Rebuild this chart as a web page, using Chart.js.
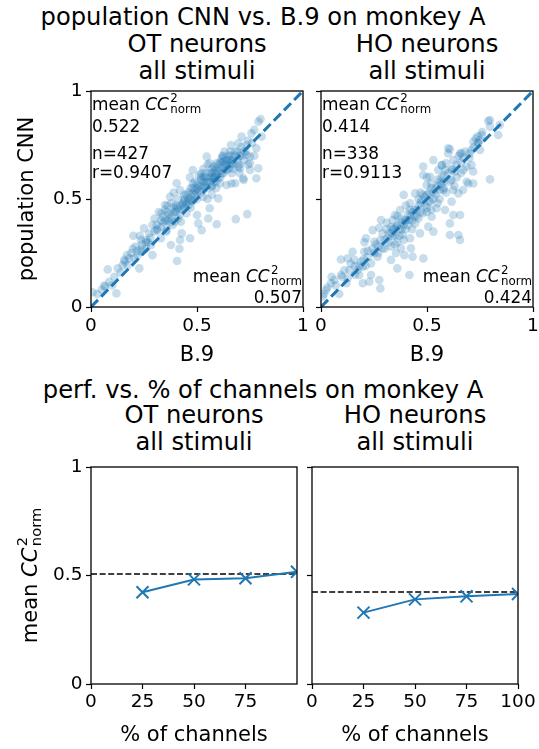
<!DOCTYPE html>
<html>
<head>
<meta charset="utf-8">
<script src="https://cdn.jsdelivr.net/npm/chart.js@4.4.1/dist/chart.umd.min.js"></script>
<style>
  html, body { margin: 0; padding: 0; background: #fff; }
  body { width: 539px; height: 749px; position: relative; overflow: hidden; font-family: 'DejaVu Sans', sans-serif; color: #000; }
  .title { position: absolute; font-size: 24.2px; line-height: 27px; text-align: center; white-space: nowrap; transform: translateX(-50%); }
  canvas { position: absolute; }
</style>
</head>
<body>
<div class="title" style="left:263px;top:4px">population CNN vs. B.9 on monkey A</div>
<div class="title" style="left:197px;top:31px">OT neurons<br>all stimuli</div>
<div class="title" style="left:427px;top:31px">HO neurons<br>all stimuli</div>
<div class="title" style="left:263px;top:376.5px">perf. vs. % of channels on monkey A</div>
<div class="title" style="left:194px;top:401.5px">OT neurons<br>all stimuli</div>
<div class="title" style="left:415px;top:401.5px">HO neurons<br>all stimuli</div>

<canvas id="scatterOT" width="318" height="304" style="left:0;top:66px"></canvas>
<canvas id="scatterHO" width="245" height="304" style="left:300px;top:66px"></canvas>
<canvas id="perfOT" width="312" height="307" style="left:0;top:442px"></canvas>
<canvas id="perfHO" width="255" height="307" style="left:290px;top:442px"></canvas>

<script>
// --- data ---

// per-neuron CC^2_norm: [B.9, population CNN], OT neurons
const otScatter = [
  [0.008, 0.068], [0.03, 0.06], [0.05, 0.08], [0.063, 0.099], [0.066, 0.094], [0.12, 0.063],
  [0.086, 0.117], [0.079, 0.174], [0.10, 0.10], [0.11, 0.14], [0.126, 0.179], [0.14, 0.16],
  [0.149, 0.194], [0.157, 0.218], [0.16, 0.21], [0.173, 0.194], [0.17, 0.24], [0.18, 0.225],
  [0.19, 0.25], [0.197, 0.27], [0.204, 0.225], [0.20, 0.33], [0.21, 0.28], [0.22, 0.24],
  [0.22, 0.26], [0.228, 0.179], [0.23, 0.33], [0.236, 0.256], [0.236, 0.31], [0.24, 0.29],
  [0.24, 0.27], [0.25, 0.364], [0.26, 0.27], [0.26, 0.30], [0.26, 0.31], [0.27, 0.30],
  [0.275, 0.34], [0.28, 0.32], [0.283, 0.287], [0.29, 0.24], [0.29, 0.38], [0.30, 0.35],
  [0.30, 0.41], [0.31, 0.36], [0.31, 0.38], [0.314, 0.356], [0.32, 0.44], [0.33, 0.318],
  [0.33, 0.37], [0.33, 0.40], [0.333, 0.434], [0.338, 0.418], [0.34, 0.39], [0.349, 0.472],
  [0.354, 0.349], [0.35, 0.40], [0.35, 0.45], [0.357, 0.356], [0.36, 0.40], [0.36, 0.44],
  [0.36, 0.47], [0.37, 0.39], [0.37, 0.41], [0.37, 0.43], [0.373, 0.51], [0.377, 0.287],
  [0.38, 0.42], [0.38, 0.48], [0.385, 0.38], [0.39, 0.44], [0.39, 0.46], [0.39, 0.53],
  [0.396, 0.395], [0.40, 0.44], [0.40, 0.45], [0.40, 0.47], [0.404, 0.573], [0.406, 0.213],
  [0.41, 0.41], [0.41, 0.46], [0.41, 0.50], [0.417, 0.27], [0.42, 0.31], [0.42, 0.43],
  [0.42, 0.47], [0.42, 0.54], [0.424, 0.395], [0.428, 0.341], [0.43, 0.45], [0.43, 0.47],
  [0.435, 0.48], [0.44, 0.46], [0.44, 0.49], [0.44, 0.50], [0.44, 0.52], [0.45, 0.434],
  [0.45, 0.48], [0.45, 0.52], [0.46, 0.47], [0.46, 0.49], [0.46, 0.50], [0.46, 0.53],
  [0.467, 0.318], [0.467, 0.60], [0.47, 0.46], [0.47, 0.51], [0.47, 0.55], [0.474, 0.495],
  [0.48, 0.49], [0.48, 0.526], [0.48, 0.55], [0.48, 0.57], [0.48, 0.634], [0.49, 0.52],
  [0.49, 0.54], [0.49, 0.58], [0.50, 0.426], [0.50, 0.50], [0.50, 0.53], [0.50, 0.55],
  [0.50, 0.57], [0.506, 0.387], [0.51, 0.54], [0.51, 0.56], [0.51, 0.61], [0.52, 0.53],
  [0.52, 0.56], [0.52, 0.59], [0.52, 0.60], [0.52, 0.619], [0.522, 0.356], [0.53, 0.51],
  [0.53, 0.557], [0.53, 0.58], [0.53, 0.60], [0.53, 0.64], [0.54, 0.56], [0.54, 0.58],
  [0.54, 0.60], [0.54, 0.62], [0.546, 0.696], [0.55, 0.50], [0.55, 0.55], [0.55, 0.58],
  [0.55, 0.66], [0.553, 0.41], [0.56, 0.457], [0.56, 0.58], [0.56, 0.60], [0.56, 0.62],
  [0.56, 0.665], [0.57, 0.52], [0.57, 0.557], [0.57, 0.56], [0.57, 0.60], [0.57, 0.62],
  [0.57, 0.64], [0.577, 0.596], [0.58, 0.58], [0.58, 0.60], [0.58, 0.63], [0.58, 0.65],
  [0.585, 0.603], [0.59, 0.55], [0.59, 0.58], [0.59, 0.62], [0.59, 0.64], [0.593, 0.383],
  [0.593, 0.665], [0.60, 0.503], [0.60, 0.60], [0.60, 0.63], [0.60, 0.66], [0.608, 0.572],
  [0.61, 0.60], [0.61, 0.63], [0.61, 0.67], [0.616, 0.688], [0.62, 0.62], [0.62, 0.65],
  [0.62, 0.67], [0.62, 0.70], [0.624, 0.619], [0.624, 0.696], [0.63, 0.64], [0.63, 0.66],
  [0.63, 0.68], [0.63, 0.72], [0.64, 0.565], [0.64, 0.634], [0.64, 0.66], [0.64, 0.68],
  [0.65, 0.64], [0.65, 0.68], [0.65, 0.70], [0.656, 0.665], [0.656, 0.719], [0.66, 0.66],
  [0.66, 0.68], [0.66, 0.70], [0.66, 0.75], [0.663, 0.572], [0.664, 0.619], [0.67, 0.64],
  [0.67, 0.66], [0.67, 0.68], [0.68, 0.573], [0.68, 0.70], [0.68, 0.72], [0.683, 0.407],
  [0.69, 0.68], [0.69, 0.72], [0.695, 0.65], [0.695, 0.758], [0.70, 0.62], [0.70, 0.66],
  [0.70, 0.70], [0.703, 0.642], [0.71, 0.70], [0.71, 0.74], [0.71, 0.789], [0.718, 0.596],
  [0.72, 0.588], [0.72, 0.68], [0.72, 0.72], [0.73, 0.72], [0.734, 0.704], [0.734, 0.75],
  [0.737, 0.43], [0.74, 0.66], [0.74, 0.77], [0.75, 0.634], [0.75, 0.665], [0.75, 0.696],
  [0.757, 0.804], [0.76, 0.76], [0.77, 0.70], [0.77, 0.82], [0.78, 0.596], [0.78, 0.735],
  [0.789, 0.642], [0.79, 0.858], [0.80, 0.87], [0.805, 0.789],
];

// HO neurons
const hoScatter = [
  [0.008, 0.048], [0.015, 0.06], [0.024, 0.079], [0.03, 0.09], [0.047, 0.11], [0.05, 0.14],
  [0.063, 0.125], [0.07, 0.10], [0.086, 0.06], [0.094, 0.148], [0.094, 0.22], [0.10, 0.14],
  [0.11, 0.17], [0.12, 0.11], [0.126, 0.133], [0.126, 0.225], [0.134, 0.171], [0.14, 0.20],
  [0.149, 0.256], [0.157, 0.218], [0.16, 0.15], [0.16, 0.19], [0.173, 0.171], [0.18, 0.148],
  [0.18, 0.19], [0.19, 0.21], [0.197, 0.11], [0.197, 0.187], [0.20, 0.22], [0.204, 0.256],
  [0.205, 0.30], [0.21, 0.19], [0.212, 0.318], [0.22, 0.23], [0.22, 0.26], [0.228, 0.117],
  [0.236, 0.148], [0.236, 0.202], [0.24, 0.27], [0.244, 0.356], [0.25, 0.25], [0.252, 0.302],
  [0.26, 0.29], [0.267, 0.233], [0.27, 0.25], [0.27, 0.28], [0.275, 0.125], [0.275, 0.367],
  [0.28, 0.086], [0.28, 0.31], [0.283, 0.403], [0.29, 0.272], [0.29, 0.34], [0.30, 0.27],
  [0.30, 0.31], [0.31, 0.36], [0.31, 0.39], [0.314, 0.318], [0.32, 0.30], [0.32, 0.34],
  [0.33, 0.218], [0.33, 0.28], [0.33, 0.37], [0.333, 0.341], [0.338, 0.403], [0.34, 0.33],
  [0.34, 0.36], [0.346, 0.364], [0.349, 0.426], [0.35, 0.29], [0.35, 0.33], [0.354, 0.25],
  [0.357, 0.372], [0.36, 0.179], [0.36, 0.30], [0.36, 0.38], [0.36, 0.42], [0.37, 0.33],
  [0.37, 0.36], [0.373, 0.449], [0.377, 0.272], [0.377, 0.41], [0.38, 0.36], [0.38, 0.39],
  [0.385, 0.333], [0.39, 0.31], [0.39, 0.38], [0.39, 0.519], [0.393, 0.24], [0.396, 0.403],
  [0.40, 0.36], [0.40, 0.40], [0.40, 0.47], [0.41, 0.38], [0.41, 0.43], [0.417, 0.148],
  [0.417, 0.403], [0.42, 0.318], [0.42, 0.42], [0.42, 0.45], [0.42, 0.48], [0.424, 0.272],
  [0.43, 0.36], [0.43, 0.40], [0.43, 0.44], [0.432, 0.233], [0.44, 0.42], [0.44, 0.45],
  [0.444, 0.387], [0.444, 0.526], [0.45, 0.42], [0.45, 0.449], [0.46, 0.41], [0.46, 0.47],
  [0.46, 0.50], [0.467, 0.341], [0.47, 0.44], [0.47, 0.48], [0.47, 0.53], [0.474, 0.495],
  [0.48, 0.434], [0.48, 0.52], [0.482, 0.611], [0.482, 0.65], [0.483, 0.225], [0.49, 0.47],
  [0.49, 0.51], [0.498, 0.565], [0.50, 0.44], [0.50, 0.46], [0.50, 0.52], [0.50, 0.60],
  [0.506, 0.372], [0.51, 0.49], [0.51, 0.53], [0.514, 0.488], [0.514, 0.603], [0.52, 0.45],
  [0.52, 0.55], [0.52, 0.57], [0.522, 0.418], [0.53, 0.349], [0.53, 0.50], [0.53, 0.53],
  [0.53, 0.68], [0.54, 0.52], [0.54, 0.55], [0.545, 0.457], [0.55, 0.48], [0.55, 0.56],
  [0.55, 0.59], [0.553, 0.634], [0.56, 0.50], [0.56, 0.542], [0.56, 0.58], [0.569, 0.657],
  [0.57, 0.57], [0.57, 0.60], [0.57, 0.657], [0.577, 0.542], [0.58, 0.55], [0.58, 0.58],
  [0.58, 0.61], [0.585, 0.449], [0.585, 0.634], [0.59, 0.53], [0.59, 0.665], [0.60, 0.62],
  [0.60, 0.711], [0.60, 0.735], [0.608, 0.333], [0.608, 0.387], [0.608, 0.73], [0.61, 0.58],
  [0.616, 0.488], [0.616, 0.588], [0.616, 0.634], [0.62, 0.64], [0.624, 0.426], [0.624, 0.542],
  [0.624, 0.68], [0.63, 0.56], [0.632, 0.627], [0.64, 0.60], [0.64, 0.66], [0.648, 0.333],
  [0.648, 0.526], [0.65, 0.70], [0.656, 0.31], [0.656, 0.426], [0.656, 0.711], [0.66, 0.62],
  [0.66, 0.67], [0.663, 0.711], [0.67, 0.542], [0.67, 0.69], [0.672, 0.634], [0.68, 0.72],
  [0.687, 0.58], [0.687, 0.65], [0.695, 0.572], [0.70, 0.69], [0.70, 0.71], [0.71, 0.657],
  [0.71, 0.727], [0.718, 0.572], [0.718, 0.627], [0.719, 0.765], [0.72, 0.74], [0.73, 0.78],
  [0.74, 0.76], [0.74, 0.79], [0.742, 0.758], [0.75, 0.727], [0.75, 0.773], [0.758, 0.796],
  [0.76, 0.81], [0.789, 0.861], [0.797, 0.591], [0.797, 0.835], [0.797, 0.866], [0.836, 0.796],
  [0.843, 0.843],
];

const cnnMean = ['0.522', '0.414'];
const b9Mean = [0.507, 0.424];
const nNeurons = [427, 338];
const corrR = ['0.9407', '0.9113'];

// perf. vs. % of channels
const channelPct = [25, 50, 75, 100];
const otPerf = [0.423, 0.482, 0.487, 0.517];
const hoPerf = [0.329, 0.390, 0.404, 0.415];

const unitTicks = [0, 0.5, 1];
const otPctTicks = [0, 25, 50, 75];
const hoPctTicks = [0, 25, 50, 75, 100];

// --- drawing ---
const BLUE = '#1f77b4';
const FONT = '"DejaVu Sans", sans-serif';
const TICK_SIZE = 18.5;
const LABEL_SIZE = 21;
const NOTE_SIZE = 16.9;

Chart.defaults.font.family = FONT;
Chart.defaults.color = '#000';
Chart.defaults.animation = false;

function drawCC(ctx, x, y, size, align) {
  // "mean CC^2_norm" laid out roughly like matplotlib mathtext
  const small = size * 0.7;
  ctx.font = `${size}px ${FONT}`;
  const wMean = ctx.measureText('mean ').width;
  ctx.font = `italic ${size}px ${FONT}`;
  const wCC = ctx.measureText('CC').width;
  ctx.font = `${small}px ${FONT}`;
  const wScript = Math.max(ctx.measureText('2').width, ctx.measureText('norm').width);
  const total = wMean + wCC + 1.5 + wScript;
  let x0 = x;
  if (align === 'right') x0 = x - total;
  if (align === 'center') x0 = x - total / 2;
  ctx.textAlign = 'left';
  ctx.textBaseline = 'alphabetic';
  ctx.font = `${size}px ${FONT}`;
  ctx.fillText('mean ', x0, y);
  ctx.font = `italic ${size}px ${FONT}`;
  ctx.fillText('CC', x0 + wMean, y);
  ctx.font = `${small}px ${FONT}`;
  ctx.fillText('2', x0 + wMean + wCC + 1.5, y - size * 0.48);
  ctx.fillText('norm', x0 + wMean + wCC + 1.5, y + size * 0.2);
}

const framePlugin = {
  id: 'frame',
  afterDatasetsDraw(chart) {
    const { ctx, chartArea: a } = chart;
    ctx.save();
    ctx.strokeStyle = '#000';
    ctx.lineWidth = 1.3;
    ctx.strokeRect(a.left, a.top, a.right - a.left, a.bottom - a.top);
    ctx.restore();
  },
};

const notesPlugin = {
  id: 'notes',
  afterDraw(chart, args, opts) {
    const { ctx, chartArea: a } = chart;
    ctx.save();
    ctx.fillStyle = '#000';
    if (opts.top) {
      drawCC(ctx, a.left + 1, a.top + 19, NOTE_SIZE, 'left');
      ctx.font = `${NOTE_SIZE}px ${FONT}`;
      ctx.textAlign = 'left';
      opts.top.forEach((line, i) => {
        ctx.fillText(line, a.left + 1, a.top + [41.3, 68, 86.7][i]);
      });
      drawCC(ctx, a.right - 1, a.bottom - 25.3, NOTE_SIZE, 'right');
      ctx.font = `${NOTE_SIZE}px ${FONT}`;
      ctx.textAlign = 'right';
      ctx.fillText(opts.bottom, a.right - 1, a.bottom - 3.7);
    }
    if (opts.yLabel) {
      ctx.translate(37, (a.top + a.bottom) / 2);
      ctx.rotate(-Math.PI / 2);
      drawCC(ctx, 0, 0, LABEL_SIZE, 'center');
    }
    ctx.restore();
  },
};

function axis(opts) {
  return {
    type: 'linear',
    min: opts.min,
    max: opts.max,
    afterBuildTicks: (s) => { s.ticks = opts.ticks.map((v) => ({ value: v })); },
    afterFit: (s) => {
      if (opts.width !== undefined) s.width = opts.width;
      if (opts.height !== undefined) s.height = opts.height;
    },
    border: { display: false },
    grid: {
      display: true,
      drawOnChartArea: false,
      drawTicks: true,
      tickLength: 5,
      tickWidth: 1.2,
      tickColor: '#000',
    },
    ticks: {
      display: opts.labels !== false,
      color: '#000',
      font: { size: TICK_SIZE },
      padding: opts.pad,
      autoSkip: false,
      maxRotation: 0,
      callback: (v) => String(v),
    },
    title: opts.title
      ? { display: true, text: opts.title, color: '#000', font: { size: LABEL_SIZE }, padding: opts.titlePad }
      : { display: false },
  };
}

function scatterChart(id, points, idx, showYAxis) {
  return new Chart(document.getElementById(id), {
    type: 'scatter',
    data: {
      datasets: [
        {
          data: [{ x: 0, y: 0 }, { x: 1, y: 1 }],
          showLine: true,
          borderColor: BLUE,
          borderWidth: 3,
          borderDash: [10, 4.5],
          pointRadius: 0,
        },
        {
          data: points.map(([x, y]) => ({ x, y })),
          backgroundColor: 'rgba(31,119,180,0.25)',
          borderWidth: 0,
          pointRadius: 4.3,
        },
      ],
    },
    options: {
      responsive: false,
      layout: { padding: showYAxis ? { top: 25, right: 15, left: 0, bottom: 0 } : { top: 25, right: 12, left: 12, bottom: 0 } },
      plugins: {
        legend: { display: false },
        tooltip: { enabled: false },
        notes: {
          top: [cnnMean[idx], `n=${nNeurons[idx]}`, `r=${corrR[idx]}`],
          bottom: b9Mean[idx].toFixed(3),
        },
      },
      scales: {
        x: axis({ min: 0, max: 1, ticks: unitTicks, height: 63, pad: 3, title: 'B.9', titlePad: { top: 0, bottom: 2 } }),
        y: showYAxis
          ? axis({ min: 0, max: 1, ticks: unitTicks, width: 91, pad: 3.5, title: 'population CNN', titlePad: { top: 14.5, bottom: 0 } })
          : axis({ min: 0, max: 1, ticks: unitTicks, width: 9, pad: 0, labels: false }),
      },
    },
    plugins: [framePlugin, notesPlugin],
  });
}

function perfChart(id, perf, ref, xTicks, showYAxis) {
  return new Chart(document.getElementById(id), {
    type: 'line',
    data: {
      datasets: [
        {
          data: channelPct.map((p, i) => ({ x: p, y: perf[i] })),
          borderColor: BLUE,
          borderWidth: 2,
          pointStyle: 'crossRot',
          pointRadius: 8.5,
          pointBorderWidth: 2,
          pointBorderColor: BLUE,
          tension: 0,
        },
        {
          data: [{ x: 0, y: ref }, { x: 100, y: ref }],
          borderColor: '#000',
          borderWidth: 1.6,
          borderDash: [6, 2.6],
          pointRadius: 0,
        },
      ],
    },
    options: {
      responsive: false,
      layout: { padding: showYAxis ? { top: 25, right: 15, left: 0, bottom: 0 } : { top: 25, right: 27, left: 15, bottom: 0 } },
      plugins: {
        legend: { display: false },
        tooltip: { enabled: false },
        notes: { yLabel: showYAxis },
      },
      scales: {
        x: axis({ min: 0, max: 100, ticks: xTicks, height: 65, pad: 2, title: '% of channels', titlePad: { top: 0, bottom: 1 } }),
        y: showYAxis
          ? axis({ min: 0, max: 1, ticks: unitTicks, width: 91, pad: 3.5 })
          : axis({ min: 0, max: 1, ticks: unitTicks, width: 7, pad: 0, labels: false }),
      },
    },
    plugins: [framePlugin, notesPlugin],
  });
}

scatterChart('scatterOT', otScatter, 0, true);
scatterChart('scatterHO', hoScatter, 1, false);
perfChart('perfOT', otPerf, b9Mean[0], otPctTicks, true);
perfChart('perfHO', hoPerf, b9Mean[1], hoPctTicks, false);
</script>
</body>
</html>
